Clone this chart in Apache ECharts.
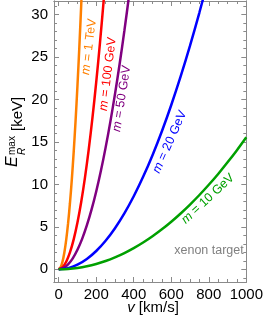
<!DOCTYPE html>
<html><head><meta charset="utf-8">
<script src="https://cdn.jsdelivr.net/npm/echarts@6/dist/echarts.min.js"></script>
<style>html,body{margin:0;padding:0;background:#fff}#c{width:266px;height:332px}</style>
</head><body><div id="c"></div>
<script>
// ---- data (E_R^max in keV vs v in km/s, xenon target) ----
const v10 = [0,50,100,150,200,250,300,350,400,450,500,550,600,650,700,750,800,850,900,950,1000];
const e10 = [0,0.039,0.156,0.35,0.622,0.972,1.40,1.905,2.488,3.149,3.888,4.704,5.598,6.570,7.620,8.747,9.952,11.23,12.60,14.03,15.55];
const v20 = [0,50,100,150,200,250,300,350,400,450,500,550,600,650,700,750,800];
const e20 = [0,0.134,0.538,1.210,2.150,3.360,4.838,6.585,8.602,10.89,13.44,16.26,19.35,22.71,26.34,30.24,34.41];
const v50 = [0,25,50,75,100,125,150,175,200,225,250,275,300,325,350,375,400];
const e50 = [0,0.143,0.573,1.289,2.292,3.581,5.157,7.019,9.168,11.60,14.33,17.33,20.63,24.21,28.08,32.23,36.67];
const v100 = [0,20,40,60,80,100,120,140,160,180,200,220,240,260];
const e100 = [0,0.220,0.881,1.983,3.525,5.508,7.932,10.80,14.10,17.85,22.03,26.66,31.72,37.23];
const v1000 = [0,10,20,30,40,50,60,70,80,90,100,110,120,130];
const e1000 = [0,0.216,0.864,1.945,3.457,5.402,7.779,10.59,13.83,17.50,21.61,26.15,31.12,36.52];

const seriesNames = ['m = 1 TeV','m = 100 GeV','m = 50 GeV','m = 20 GeV','m = 10 GeV'];
const seriesColors = ['#ff8000','#ff0000','#800080','#0000ff','#00a000'];

const xTicks = [0,200,400,600,800,1000];
const xMinor = [50,100,150,250,300,350,450,500,550,650,700,750,850,900,950];
const yTicks = [0,5,10,15,20,25,30];
const yMinor = [-1,1,2,3,4,6,7,8,9,11,12,13,14,16,17,18,19,21,22,23,24,26,27,28,29,31];

// curve annotations: [v, E, rotation(deg)]
const labelPos = [[162,26.2,83],[262,23.0,83],[336,20.1,81],[592,15.0,66],[795,8.3,43]];
const noteText = 'xenon target';
const notePos = [801,2.15];

const X_MIN=-25, X_MAX=1000, Y_MIN=-1.5, Y_MAX=31.6;
const FONT = "'Liberation Sans', Arial, Helvetica, sans-serif";
const FRAME = '#8a8a8a';

function pairs(xs, ys){ return xs.map((x,i)=>[x, ys[i]]); }
const allData = [pairs(v1000,e1000), pairs(v100,e100), pairs(v50,e50), pairs(v20,e20), pairs(v10,e10)];

function mkAxis(kind, pos, major, vals, labels){
  return {
    type:'value', position:pos, min: kind==='x'?X_MIN:Y_MIN, max: kind==='x'?X_MAX:Y_MAX,
    splitLine:{show:false},
    axisLine:{show:true, onZero:false, lineStyle:{color:FRAME, width:1}},
    axisTick:{show:true, inside:true, length: major?5:3, customValues: vals, lineStyle:{color:FRAME,width:1}},
    axisLabel:{show:labels, customValues: vals, formatter:(v)=>String(v), color:'#000', fontSize:15, fontFamily:FONT, margin: kind==='x'?5:6}
  };
}

const chart = echarts.init(document.getElementById('c'), null, {renderer:'canvas'});
chart.setOption({
  animation:false,
  backgroundColor:'#fff',
  grid:{left:54, right:14, top:1, bottom:50, containLabel:false},
  xAxis:[
    mkAxis('x','bottom',true,xTicks,true),
    mkAxis('x','bottom',false,xMinor,false),
    mkAxis('x','top',true,xTicks,false),
    mkAxis('x','top',false,xMinor,false)
  ],
  yAxis:[
    mkAxis('y','left',true,yTicks,true),
    mkAxis('y','left',false,yMinor,false),
    mkAxis('y','right',true,yTicks,false),
    mkAxis('y','right',false,yMinor,false)
  ],
  series: allData.map((d,i)=>({
    type:'line', name:seriesNames[i], data:d, xAxisIndex:0, yAxisIndex:0,
    showSymbol:false, smooth:0.3, clip:true,
    lineStyle:{color:seriesColors[i], width:2.5}, z: 2+i
  }))
});

(function(){
  const g = [];
  g.push({type:'text', x:153, y:300, style:{
    text:'{i|v} [km/s]', align:'center', verticalAlign:'top',
    fontSize:15, fontFamily:FONT, fill:'#000',
    rich:{i:{fontStyle:'italic', fontSize:15, fontFamily:FONT}}
  }});
  // y-axis title, rotated group
  g.push({type:'group', x:18, y:124, rotation:Math.PI/2, children:[
    {type:'text', x:-43, y:3, style:{text:'E', fontSize:16, fontStyle:'italic', fontFamily:FONT, fill:'#000', align:'left', verticalAlign:'bottom'}},
    {type:'text', x:-31, y:-1, style:{text:'max', fontSize:10, fontFamily:FONT, fill:'#000', align:'left', verticalAlign:'bottom'}},
    {type:'text', x:-31, y:9, style:{text:'R', fontSize:10, fontStyle:'italic', fontFamily:FONT, fill:'#000', align:'left', verticalAlign:'bottom'}},
    {type:'text', x:-7, y:7, style:{text:'[keV]', fontSize:15, fontFamily:FONT, fill:'#000', align:'left', verticalAlign:'bottom'}}
  ]});
  labelPos.forEach((p,i)=>{
    const px = chart.convertToPixel({xAxisIndex:0, yAxisIndex:0}, [p[0], p[1]]);
    const txt = seriesNames[i].replace(/^m/, '{i|m}');
    g.push({type:'text', x:px[0], y:px[1], rotation:p[2]*Math.PI/180, z:20, style:{
      text:txt, align:'center', verticalAlign:'middle', fontSize:12.5, fontFamily:FONT, fill:seriesColors[i],
      rich:{i:{fontStyle:'italic', fontSize:12.5, fontFamily:FONT, fill:seriesColors[i]}}
    }});
  });
  const np = chart.convertToPixel({xAxisIndex:0, yAxisIndex:0}, notePos);
  g.push({type:'text', x:np[0], y:np[1], z:20, style:{text:noteText, align:'center', verticalAlign:'middle', fontSize:12.5, fontFamily:FONT, fill:'#808080'}});
  chart.setOption({graphic:g});
})();
</script>
</body></html>
